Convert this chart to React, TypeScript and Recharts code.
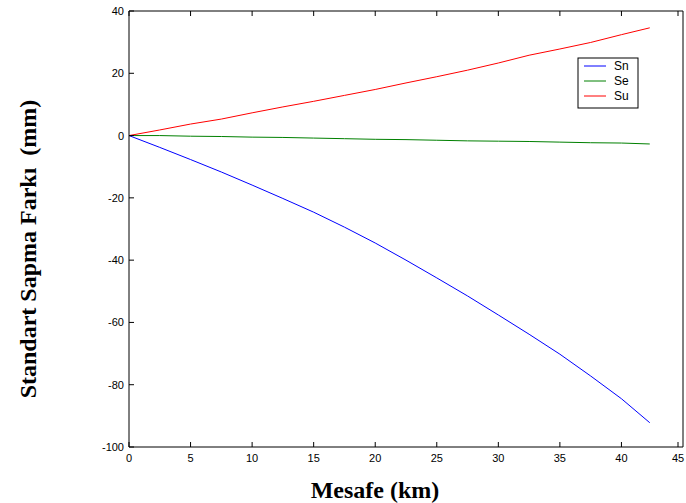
import { LineChart, Line, XAxis, YAxis } from 'recharts';

const distanceKm = [0, 2.5, 5, 7.5, 10, 12.5, 15, 17.5, 20, 22.5, 25, 27.5, 30, 32.5, 35, 37.5, 40, 42.3];
const snValues = [0, -3.8, -7.7, -11.7, -15.9, -20.2, -24.6, -29.4, -34.5, -40, -45.7, -51.5, -57.6, -63.8, -70.2, -77.2, -84.5, -92.2];
const seValues = [0, 0, -0.2, -0.3, -0.5, -0.6, -0.8, -1.0, -1.2, -1.3, -1.5, -1.7, -1.8, -1.9, -2.1, -2.3, -2.4, -2.7];
const suValues = [0, 1.8, 3.7, 5.3, 7.3, 9.2, 11, 12.9, 14.8, 16.9, 18.9, 21, 23.3, 25.8, 27.8, 29.9, 32.4, 34.6];

const xTicks = [0, 5, 10, 15, 20, 25, 30, 35, 40, 45];
const yTicks = [-100, -80, -60, -40, -20, 0, 20, 40];

const SERIES = [
  { key: 'Sn', color: '#0000ff' },
  { key: 'Se', color: '#008000' },
  { key: 'Su', color: '#ff0000' },
];

const data = distanceKm.map((d, i) => ({
  d,
  Sn: snValues[i],
  Se: seValues[i],
  Su: suValues[i],
}));

const TICK_FONT = 'Arial, "Liberation Sans", sans-serif';
const LABEL_FONT = '"Times New Roman", "Liberation Serif", serif';

// ticks get the plot-edge coordinate (tickSize/tickMargin = 0), draw inward marks MATLAB-style
const BottomTick = ({ x, y, payload }: any) => (
  <g>
    <line x1={x} x2={x} y1={y} y2={y - 5} stroke="#000" />
    <text x={x} y={y + 15} textAnchor="middle" fontSize={11} fontFamily={TICK_FONT} fill="#000">
      {payload.value}
    </text>
  </g>
);

const TopTick = ({ x, y }: any) => <line x1={x} x2={x} y1={y} y2={y + 5} stroke="#000" />;

const LeftTick = ({ x, y, payload }: any) => (
  <g>
    <line x1={x} x2={x + 5} y1={y} y2={y} stroke="#000" />
    <text x={x - 5} y={y + 4} textAnchor="end" fontSize={11} fontFamily={TICK_FONT} fill="#000">
      {payload.value}
    </text>
  </g>
);

const RightTick = ({ x, y }: any) => <line x1={x} x2={x - 5} y1={y} y2={y} stroke="#000" />;

export default function App() {
  return (
    <div style={{ position: 'absolute', left: 0, top: 0, width: 686, height: 503, background: '#fff' }}>
      <LineChart width={686} height={503} data={data} margin={{ top: 0, right: 0, left: 89, bottom: 26 }}>
        <XAxis
          xAxisId="bottom"
          dataKey="d"
          type="number"
          domain={[0, 45]}
          ticks={xTicks}
          height={30}
          tickSize={0}
          tickMargin={0}
          tick={<BottomTick />}
          axisLine={{ stroke: '#000' }}
          tickLine={false}
        />
        <XAxis
          xAxisId="top"
          orientation="top"
          dataKey="d"
          type="number"
          domain={[0, 45]}
          ticks={xTicks}
          height={11}
          tickSize={0}
          tickMargin={0}
          tick={<TopTick />}
          axisLine={{ stroke: '#000' }}
          tickLine={false}
        />
        <YAxis
          yAxisId="left"
          type="number"
          domain={[-100, 40]}
          ticks={yTicks}
          width={40}
          tickSize={0}
          tickMargin={0}
          tick={<LeftTick />}
          axisLine={{ stroke: '#000' }}
          tickLine={false}
        />
        <YAxis
          yAxisId="right"
          orientation="right"
          type="number"
          domain={[-100, 40]}
          ticks={yTicks}
          width={3}
          tickSize={0}
          tickMargin={0}
          tick={<RightTick />}
          axisLine={{ stroke: '#000' }}
          tickLine={false}
        />
        {SERIES.map((s) => (
          <Line
            key={s.key}
            xAxisId="bottom"
            yAxisId="left"
            type="linear"
            dataKey={s.key}
            stroke={s.color}
            strokeWidth={1}
            dot={false}
            isAnimationActive={false}
          />
        ))}
      </LineChart>
      <svg
        width={62}
        height={52}
        style={{ position: 'absolute', left: 577, top: 57 }}
      >
        <rect x={1} y={1} width={60} height={50} fill="#fff" stroke="#000" strokeWidth={1} />
        {SERIES.map((s, i) => (
          <g key={s.key}>
            <line x1={7} x2={29} y1={9 + i * 15} y2={9 + i * 15} stroke={s.color} strokeWidth={1} />
            <text x={37} y={13 + i * 15} fontSize={12} fontFamily={TICK_FONT} fill="#000">
              {s.key}
            </text>
          </g>
        ))}
      </svg>
      <div
        style={{
          position: 'absolute',
          left: 0,
          top: 476,
          width: 750,
          textAlign: 'center',
          fontFamily: LABEL_FONT,
          fontWeight: 'bold',
          fontSize: 24,
          lineHeight: '28px',
        }}
      >
        Mesafe (km)
      </div>
      <div
        style={{
          position: 'absolute',
          left: 28,
          top: 249,
          transform: 'translate(-50%, -50%) rotate(-90deg)',
          whiteSpace: 'pre',
          fontFamily: LABEL_FONT,
          fontWeight: 'bold',
          fontSize: 24,
          lineHeight: '28px',
        }}
      >
        {'Standart Sapma Farkı  (mm)'}
      </div>
    </div>
  );
}
